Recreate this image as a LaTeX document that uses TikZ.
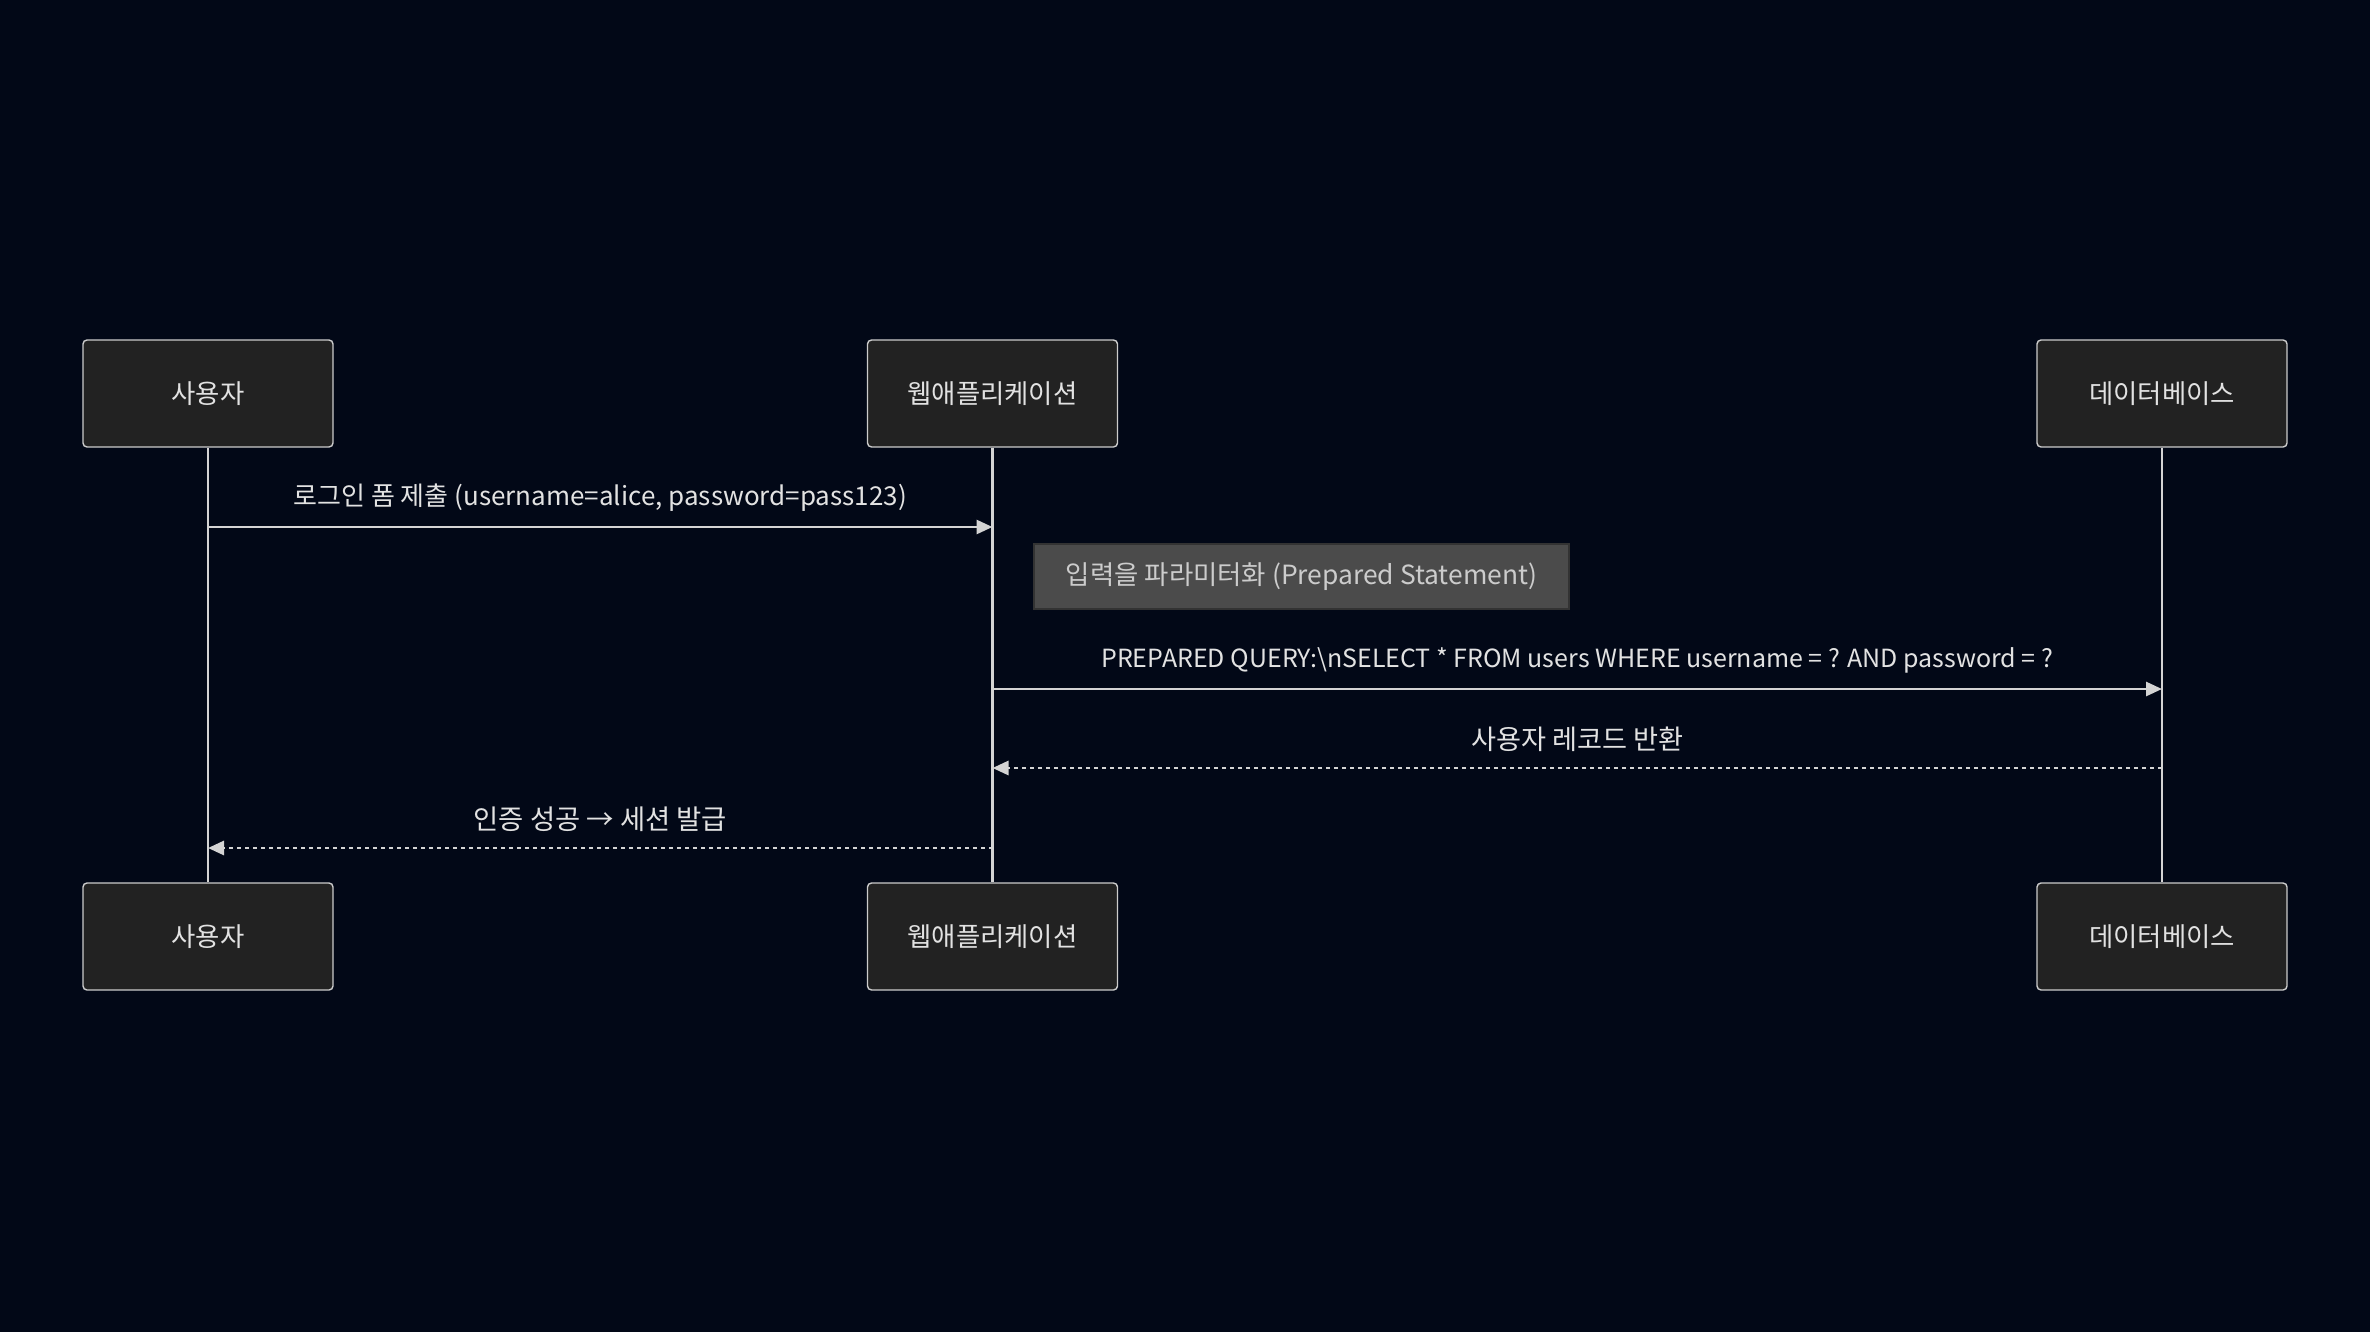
\documentclass[tikz,border=0pt]{standalone}
\usepackage{fontspec}
\newfontfamily\kr{Noto Sans CJK KR}
\usetikzlibrary{arrows.meta}
\definecolor{bg}{HTML}{020817}
\definecolor{boxfill}{HTML}{222222}
\definecolor{boxline}{HTML}{CCCCCC}
\definecolor{txt}{HTML}{E2E2E2}
\definecolor{notefill}{HTML}{4B4B4B}
\definecolor{noteline}{HTML}{333333}
\definecolor{notetxt}{HTML}{CCCCCC}
\definecolor{wire}{HTML}{D4D4D4}
\newcommand{\fsz}[1]{\kr\fontsize{#1}{#1}\selectfont}
\begin{document}
\begin{tikzpicture}[x=0.5pt,y=-0.5pt,
  actor/.style={draw=boxline, fill=boxfill, rounded corners=2pt, minimum width=125pt, minimum height=53.5pt, inner sep=0pt, text=txt, font=\fsz{13.2}, line width=0.7pt},
  note/.style={draw=noteline, fill=notefill, minimum width=267.5pt, minimum height=32.5pt, inner sep=0pt, text=notetxt, font=\fsz{13.2}, line width=0.7pt},
  life/.style={draw=wire, line width=1.25pt},
  msg/.style={draw=wire, line width=1.4pt, -{Triangle[length=8pt,width=7pt]}},
  reply/.style={msg, dash pattern=on 2pt off 2pt},
  lbl/.style={text=txt, font=\fsz{12.5}, inner sep=0pt}
]
\fill[bg] (0,0) rectangle (2370,1332);
\useasboundingbox (0,0) rectangle (2370,1332);

% actors top
\node[actor] (u1) at (208,393.5) {사용자};
\node[actor] (w1) at (992.5,393.5) {웹애플리케이션};
\node[actor] (d1) at (2162,393.5) {데이터베이스};
% actors bottom
\node[actor] (u2) at (208,936.5) {사용자};
\node[actor] (w2) at (992.5,936.5) {웹애플리케이션};
\node[actor] (d2) at (2162,936.5) {데이터베이스};

% lifelines
\draw[life] (u1.south) -- (u2.north);
\draw[life] (w1.south) -- (w2.north);
\draw[life] (d1.south) -- (d2.north);

% message anchor points
\coordinate (ua) at (208,527);
\coordinate (wa) at (992.5,527);
\coordinate (wb) at (992.5,689);
\coordinate (db) at (2162,689);
\coordinate (dc) at (2162,768);
\coordinate (wc) at (992.5,768);
\coordinate (wd) at (992.5,848);
\coordinate (ud) at (208,848);

\draw[msg] (ua) -- (wa) node[lbl, font=\fsz{13}, midway, yshift=14.5pt] (m1) {로그인 폼 제출 (username=alice, password=pass123)};

\node[note] (n1) at (1301.5,576.5) {입력을 파라미터화 (Prepared Statement)};

\draw[msg] (wb) -- (db) node[lbl, midway, yshift=14.5pt] (m2) {PREPARED QUERY:\textbackslash nSELECT * FROM users WHERE username = ? AND password = ?};

\draw[reply] (dc) -- (wc) node[lbl, font=\fsz{13.6}, midway, yshift=14.5pt] (m3) {사용자 레코드 반환};

\draw[reply] (wd) -- (ud) node[lbl, font=\fsz{13.7}, midway, yshift=14.5pt] (m4) {인증 성공 → 세션 발급};
\end{tikzpicture}
\end{document}
